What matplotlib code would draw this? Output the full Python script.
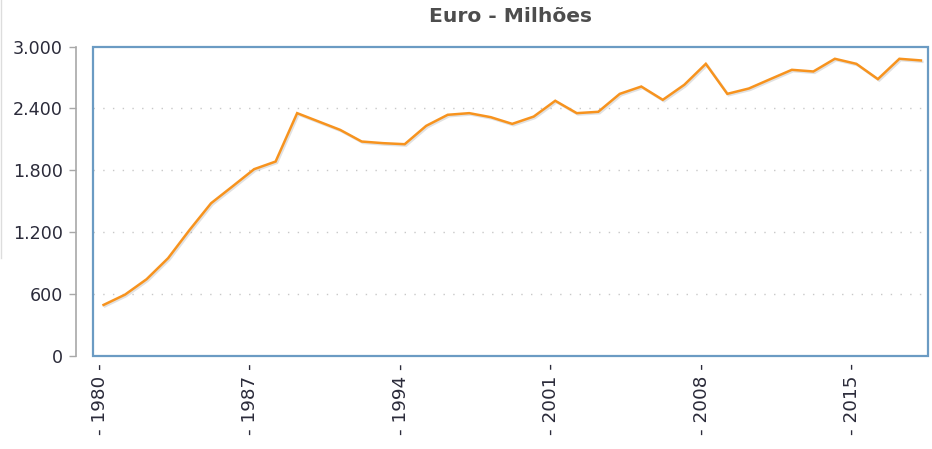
import matplotlib
matplotlib.use("Agg")
import matplotlib.pyplot as plt
import matplotlib.patheffects as pe
import matplotlib.transforms as mtransforms
from matplotlib.patches import Rectangle
from matplotlib.lines import Line2D
from matplotlib.ticker import FuncFormatter

years = [1980, 1981, 1982, 1983, 1984, 1985, 1986, 1987, 1988, 1989,
         1990, 1991, 1992, 1993, 1994, 1995, 1996, 1997, 1998, 1999,
         2000, 2001, 2002, 2003, 2004, 2005, 2006, 2007, 2008, 2009,
         2010, 2011, 2012, 2013, 2014, 2015, 2016, 2017, 2018]
values = [495, 595, 744, 948, 1222, 1481, 1645, 1811, 1885, 2354,
          2273, 2192, 2079, 2063, 2053, 2231, 2338, 2354, 2315, 2250,
          2321, 2474, 2354, 2367, 2541, 2612, 2483, 2629, 2832, 2541,
          2593, 2684, 2774, 2758, 2881, 2832, 2684, 2881, 2865]
xtick_years = [1980, 1987, 1994, 2001, 2008, 2015]
xtick_labels = ["- %d -" % y for y in xtick_years]
ytick_values = [0, 600, 1200, 1800, 2400, 3000]
title = "Euro - Milhões"

W, H = 932, 449
fig = plt.figure(figsize=(W / 100, H / 100), dpi=100)
fig.patch.set_facecolor("white")
left, right, top, bottom = 93, 928, 46.5, 356
ax = fig.add_axes([left / W, 1 - bottom / H, (right - left) / W, (bottom - top) / H])

ax.plot(years, values, color="#f7931e", lw=1.8, solid_joinstyle="miter", zorder=3,
        path_effects=[pe.SimpleLineShadow(offset=(1, -1), shadow_color="#888888", alpha=0.25),
                      pe.Normal()])

ax.set_xlim(1979.51, 2018.33)
ax.set_ylim(0, 3000)

ax.set_yticks(ytick_values)
ax.yaxis.set_major_formatter(FuncFormatter(lambda v, p: f"{int(v):,}".replace(",", ".")))
for v in ytick_values[1:-1]:
    ax.axhline(v, color="#c8c8c8", lw=1.0, ls=(0, (1, 6)), zorder=1)

ax.set_xticks(xtick_years)
ax.set_xticklabels(xtick_labels, rotation=90, va="top", ha="center")
ax.tick_params(axis="x", length=0, pad=5, labelsize=13.2, labelcolor="#2b2b3a")
ax.tick_params(axis="y", length=5, width=1, color="#a8a8a8", pad=4,
               labelsize=12.6, labelcolor="#2b2b3a")
shift = mtransforms.ScaledTranslation(-4 / 100, 0, fig.dpi_scale_trans)
for lbl in ax.get_xticklabels():
    lbl.set_transform(lbl.get_transform() + shift)

for s in ["top", "right", "bottom"]:
    ax.spines[s].set_visible(False)
ax.spines["left"].set_position(("outward", 12.6))
ax.spines["left"].set_color("#a8a8a8")
ax.spines["left"].set_linewidth(1.2)

ax.add_patch(Rectangle((0, 0), 1, 1, transform=ax.transAxes, fill=False,
                       edgecolor="#6b9bc3", lw=1.6, clip_on=False, zorder=4))

ax.set_title(title, fontsize=14.6, fontweight="bold", color="#4d4d4d", pad=18)

fig.add_artist(Line2D([0.8 / W, 0.8 / W], [1, 1 - 258 / H], transform=fig.transFigure,
                      color="#dddddd", lw=1))

fig.savefig("out.png", dpi=100, facecolor="white")
